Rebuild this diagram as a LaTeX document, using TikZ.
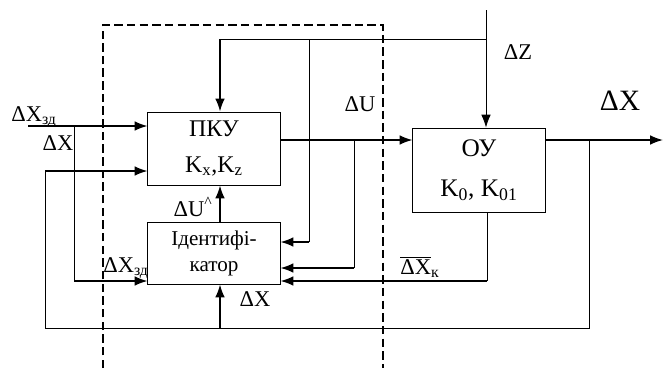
\documentclass[tikz,border=0pt]{standalone}
\usepackage{fontspec}
\setmainfont{Liberation Serif}
\usetikzlibrary{arrows.meta,positioning}
\tikzset{
    block/.style={draw, line width=0.7pt, minimum width=3.3cm, align=center, inner sep=2pt},
    sig/.style={draw, line width=1.1pt, -{Latex[length=3.2mm, width=2.4mm]}},
    fb/.style={draw, line width=0.6pt},
    fbarrow/.style={draw, line width=0.6pt, -{Latex[length=3.2mm, width=2.4mm]}},
    lbl/.style={inner sep=1pt, font=\fontsize{16}{18}\selectfont},
    frame/.style={draw, line width=0.9pt, dash pattern=on 6pt off 3pt}
}

\begin{document}
\begin{tikzpicture}[x=0.025cm, y=-0.025cm]
    \useasboundingbox (0,0) rectangle (663,371);
    % Blocks
    \node[block, minimum height=1.825cm, font=\fontsize{17}{25}\selectfont] (pku) at (214,148.5) {ПКУ\\K\textsubscript{x},K\textsubscript{z}};
    \node[block, minimum height=1.55cm, font=\fontsize{15}{18.5}\selectfont] (ident) at (214,253) {Ідентифі-\\катор};
    \node[block, minimum height=2.1cm, font=\fontsize{18}{29}\selectfont] (ou) at (479,170) {ОУ\\K\textsubscript{0}, K\textsubscript{01}};

    % frame of the controller
    \draw[frame] (103,368) -- (103,25) -- (383,25) -- (383,368);

    % points
    \coordinate (xzd) at (28,126);
    \coordinate (jzd) at (74,126);
    \coordinate (bzd) at (74,281);
    \coordinate (zin) at (486,10);
    \coordinate (ztop) at (486,39);
    \coordinate (ttop) at (220,39);
    \coordinate (tmid) at (309,39);
    \coordinate (tbot) at (309,242);
    \coordinate (ju) at (354,140);
    \coordinate (jub) at (354,268);
    \coordinate (okb) at (487,281);
    \coordinate (xout) at (663,140);
    \coordinate (jx) at (589,140);
    \coordinate (jxb) at (589,328);
    \coordinate (jxl) at (45,328);
    \coordinate (jxt) at (45,171);
    \coordinate (jxm) at (220,328);

    % signals
    \draw[sig] (xzd) -- (pku.west |- xzd);
    \draw[fb] (jzd) -- (bzd);
    \draw[sig] (bzd) -- (ident.west |- bzd);
    \draw[sig] (pku.east |- ju) -- (ou.west |- ju);
    \draw[sig] (ou.east |- xout) -- (xout);
    \draw[fbarrow] (zin) -- (ou.north -| zin);
    \draw[fb] (ztop) -- (ttop);
    \draw[sig] (ttop) -- (pku.north -| ttop);
    \draw[fb] (tmid) -- (tbot);
    \draw[sig] (tbot) -- (ident.east |- tbot);
    \draw[fb] (ju) -- (jub);
    \draw[sig] (jub) -- (ident.east |- jub);
    \draw[fb] (ou.south -| okb) -- (okb);
    \draw[sig] (okb) -- (ident.east |- okb);
    \draw[fb] (jx) -- (jxb) -- (jxl) -- (jxt);
    \draw[sig] (jxt) -- (pku.west |- jxt);
    \draw[sig] (jxm) -- (ident.south -| jxm);
    \draw[sig] (ident.north -| ttop) -- (pku.south -| ttop);

    % labels
    \node[lbl] (lxzd) at (34,117) {ΔX\textsubscript{зд}};
    \node[lbl] (lx1) at (58,143) {ΔX};
    \node[lbl] (lu) at (360,104) {ΔU};
    \node[lbl] (lz) at (518,52) {ΔZ};
    \node[lbl, font=\fontsize{21}{24}\selectfont] (lx) at (620,101) {ΔX};
    \node[lbl] (lu2) at (193,207) {ΔU\textsuperscript{\textasciicircum}};
    \node[lbl] (lxzd2) at (126,268) {ΔX\textsubscript{зд}};
    \node[lbl] (lx2) at (255,299) {ΔX};
    \node[lbl] (lxk) at (420,267) {\(\overline{\mbox{ΔX}}\)\textsubscript{к}};
\end{tikzpicture}
\end{document}
